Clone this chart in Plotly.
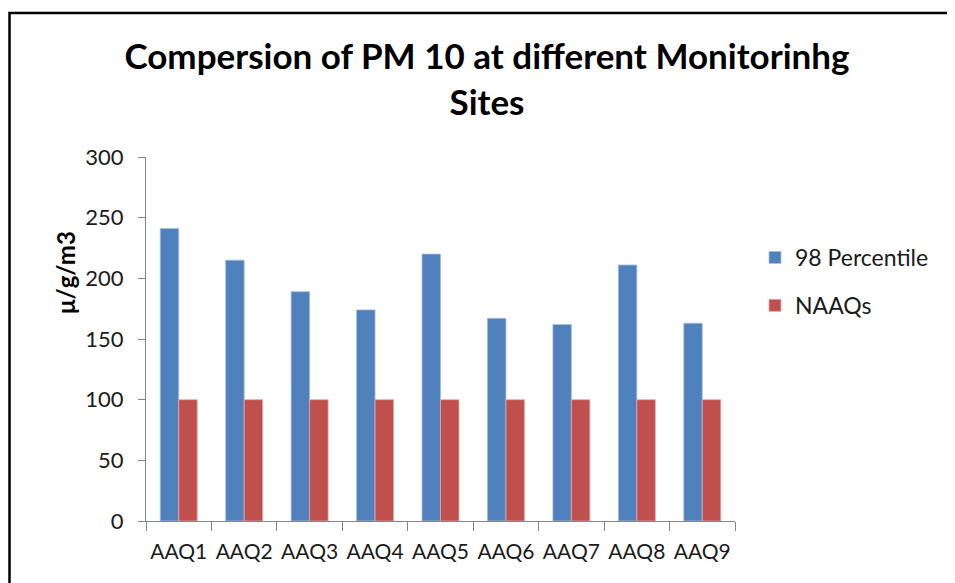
import plotly.graph_objects as go

categories = ["AAQ1", "AAQ2", "AAQ3", "AAQ4", "AAQ5", "AAQ6", "AAQ7", "AAQ8", "AAQ9"]
percentile98 = [241, 215, 189, 174, 220, 167, 162, 211, 163]
naaqs = [100, 100, 100, 100, 100, 100, 100, 100, 100]
y_ticks = [0, 50, 100, 150, 200, 250, 300]

FONT = "Lato"
TXT = "#1a1a1a"
OFF = 8  # page body margin

fig = go.Figure()
fig.add_trace(go.Bar(
    x=categories, y=percentile98, name="98 Percentile",
    marker=dict(color="#4F81BD", line=dict(color="#A7BFDE", width=0.8)),
    legendgroup="a",
))
fig.add_trace(go.Bar(
    x=categories, y=naaqs, name="NAAQs",
    marker=dict(color="#C0504D", line=dict(color="#E0A9A8", width=0.8)),
    legendgroup="b",
))

W, H = 947, 575
# plot area in absolute page pixels
AL, AR, AT, AB = 146, 735, 157, 521
L, T = AL - OFF, AT - OFF
R = W - (AR - OFF)
B = H - (AB - OFF)
pw = AR - AL
ph = AB - AT

def px_x(ax):
    return (ax - AL) / pw

def px_y(ay):
    return (AB - ay) / ph

fig.update_layout(
    width=W, height=H,
    margin=dict(l=L, r=R, t=T, b=B, autoexpand=False),
    paper_bgcolor="white", plot_bgcolor="white",
    barmode="group", bargap=0.435, bargroupgap=0,
    font=dict(family=FONT, color=TXT, size=20),
    title=dict(
        text="<b>Compersion of PM 10 at different Monitorinhg<br>Sites</b>",
        x=(487 - OFF) / W, xanchor="center", y=1 - (69 - OFF) / H, yanchor="middle",
        font=dict(family=FONT, size=35, color="#000"),
    ),
    legend=dict(
        x=px_x(755), xanchor="left", y=px_y(236), yanchor="top",
        font=dict(family=FONT, size=23, color=TXT),
        tracegroupgap=15, itemwidth=30, bgcolor="rgba(0,0,0,0)",
    ),
    xaxis=dict(
        showline=True, linecolor="#868686", linewidth=1,
        ticks="outside", ticklen=9, tickcolor="#868686", tickson="boundaries",
        tickfont=dict(family=FONT, size=21, color=TXT), tickangle=0,
        ticklabelstandoff=12,
        showgrid=False, zeroline=False,
    ),
    yaxis=dict(
        range=[0, 300], tickvals=y_ticks,
        showline=True, linecolor="#868686", linewidth=1,
        ticks="outside", ticklen=7, tickcolor="#868686",
        tickfont=dict(family=FONT, size=22, color=TXT),
        ticklabelstandoff=10,
        showgrid=False, zeroline=False,
    ),
    annotations=[dict(
        text="<b>μ/g/m3</b>", textangle=-90, showarrow=False,
        xref="paper", yref="paper", x=px_x(65), y=px_y(273),
        xanchor="center", yanchor="middle",
        font=dict(family=FONT, size=24, color="#000"),
    )],
    shapes=[dict(
        type="rect", xref="paper", yref="paper",
        x0=px_x(9.5), x1=px_x(990), y0=px_y(640), y1=px_y(13),
        line=dict(color="black", width=2.5), fillcolor="rgba(0,0,0,0)", layer="below",
    )],
)

fig.write_html("out.html")
